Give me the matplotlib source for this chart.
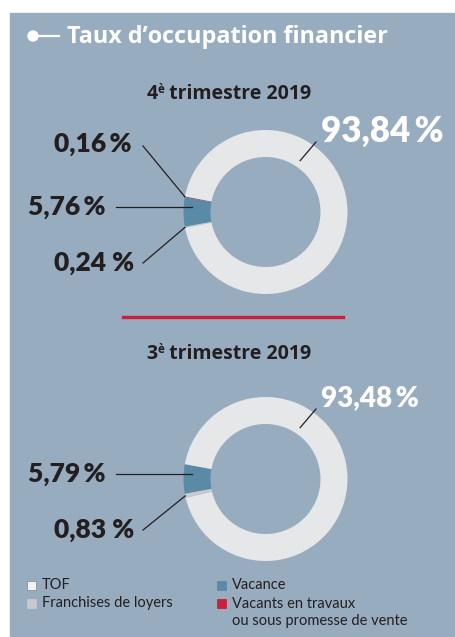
import numpy as np
import matplotlib.pyplot as plt
from matplotlib.patches import Rectangle, Circle

# data (pie order: red, vacance, franchises, TOF -> counterclockwise from top-left)
categories = ['Vacants en travaux\nou sous promesse de vente', 'Vacance',
              'Franchises de loyers', 'TOF']
q4_values = [0.16, 5.76, 0.24, 93.84]
q3_values = [0.00, 5.79, 0.83, 93.48]
q4_labels = ['0,16\u2009%', '5,76\u2009%', '0,24 %', '93,84\u2009%']
q3_labels = ['', '5,79\u2009%', '0,83 %', '93,48\u2009%']
colors = ['#c8213b', '#5b8aa6', '#c6c9cd', '#e6e7e9']

W, H = 455, 637
BG = '#98acc0'
DARK = '#231f20'
FONT = ['Lato', 'DejaVu Sans']
TFONT = ['Open Sans', 'DejaVu Sans']

fig = plt.figure(figsize=(W / 100, H / 100), dpi=100)
ax = fig.add_axes([0, 0, 1, 1])
ax.set_xlim(0, W)
ax.set_ylim(0, H)
ax.axis('off')
renderer = fig.canvas.get_renderer()


def Y(y):
    # image row -> data y (y up)
    return H - y


ax.add_patch(Rectangle((10, 0), W - 11, Y(13), color=BG, zorder=0))

# header
ax.add_patch(Circle((33, Y(36)), 5, color='white', zorder=3))
ax.plot([36, 59], [Y(36), Y(36)], color='white', lw=1.6, zorder=3)
ax.text(67, Y(37), 'Taux d\u2019occupation financier', color='white',
        fontsize=16.8, fontweight='bold', family=TFONT, va='center', ha='left')


def title(num, cx, ty):
    # "4è trimestre 2019" with superscript è, centred on cx
    kw = dict(color=DARK, fontweight='bold', family=TFONT, va='baseline', ha='left')
    parts = [(num, 14, 0), ('\u00e8', 8.5, 6), (' trimestre 2019', 14, 0)]
    texts = [ax.text(0, 0, s, fontsize=fs, **kw) for s, fs, _ in parts]
    widths = [t.get_window_extent(renderer).width for t in texts]
    x = cx - sum(widths) / 2
    for t, w, (_, _, dy) in zip(texts, widths, parts):
        t.set_position((x, Y(ty) + dy))
        x += w


def donut(values, labels, cy, ty, num, big_size):
    vac = values[1]
    start = 180 - vac * 3.6 / 2 - values[0] * 3.6
    cx, cyy = 265.5, Y(cy)
    wedges, _ = ax.pie(values, colors=colors, startangle=start, counterclock=True,
                       center=(cx, cyy), radius=82,
                       wedgeprops=dict(width=27, linewidth=0))
    title(num, 229, ty)

    def pt(w, r):
        a = np.deg2rad((w.theta1 + w.theta2) / 2)
        return cx + r * np.cos(a), cyy + r * np.sin(a)

    # small segments labels on the left
    label_pos = {0: (132, cy - 68), 1: (106, cy - 5), 2: (134, cy + 51)}
    line_start = {0: (143, cy - 66), 1: (116, cy - 5), 2: (143, cy + 51)}
    for i in range(3):
        if not labels[i]:
            continue
        lx, ly = label_pos[i]
        ax.text(lx, Y(ly), labels[i], color=DARK, fontsize=19, fontweight='heavy',
                family=FONT, ha='right', va='center')
        sx, sy = line_start[i]
        if i == 1:
            ex, ey = 192, Y(sy)
        else:
            ex, ey = pt(wedges[i], 82)
        ax.plot([sx, ex], [Y(sy), ey], color=DARK, lw=0.9, zorder=5)
    # TOF label
    ax.text(321, Y(cy - 81), labels[3], color='white', fontsize=big_size,
            fontweight='heavy', family=FONT, ha='left', va='center')
    a = np.deg2rad(56)
    ax.plot([316, cx + 62 * np.cos(a)], [Y(cy - 70), cyy + 62 * np.sin(a)],
            color=DARK, lw=0.9, zorder=5)


donut(q4_values, q4_labels, 212, 99, '4', 25)
# separator
ax.plot([123, 343], [Y(317), Y(317)], color='#c8213b', lw=2.4)
donut(q3_values, q3_labels, 479, 359, '3', 20)

# legend
leg = [(27, 585, 3), (27, 603, 2), (217, 585, 1), (217, 603, 0)]
for x, y, i in leg:
    ec = '#8a8f96' if i == 3 else colors[i]
    fc = '#f2f2f2' if i == 3 else colors[i]
    ax.add_patch(Rectangle((x, Y(y) - 4.5), 9, 9, facecolor=fc,
                           edgecolor=ec, lw=0.6, zorder=3))
    ax.text(x + 15, Y(y) + (6 if i == 0 else 0), categories[i], color=DARK,
            fontsize=10.5, family=FONT, ha='left',
            va='center' if i != 0 else 'top', linespacing=1.25)

ax.set_xlim(0, W)
ax.set_ylim(0, H)
fig.savefig('out.png', dpi=100, facecolor='white')
